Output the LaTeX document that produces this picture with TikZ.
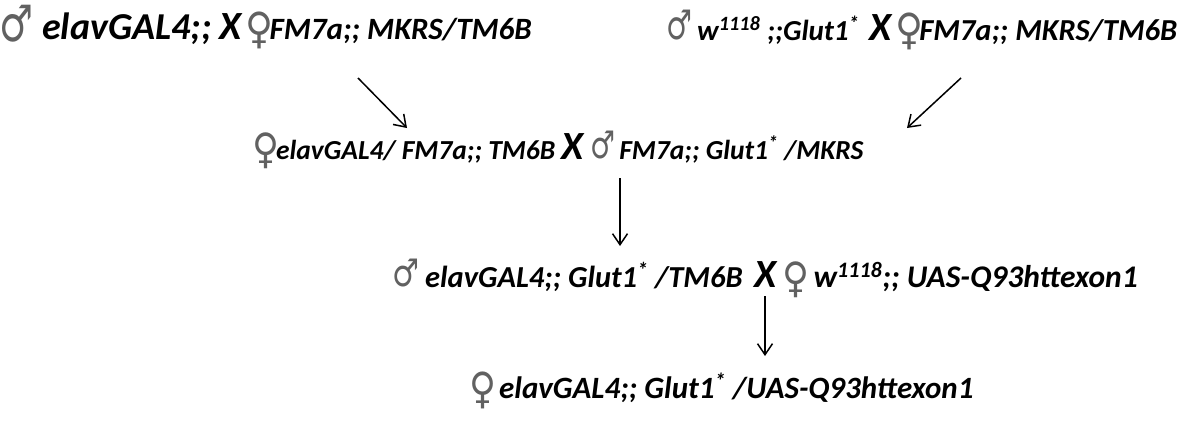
\documentclass[tikz,border=0pt]{standalone}
\usepackage{fontspec}
\usepackage{graphicx}
\usetikzlibrary{arrows.meta}
\setmainfont{Carlito}
\newfontfamily\sexsym{DejaVu Sans}[UprightFont=* ExtraLight]
\colorlet{symgray}{black!62}
\newcommand\fsz[1]{\fontsize{#1}{#1}\selectfont}
% sex symbols: glyph, set width, glyph box width, height above baseline, depth below baseline
\newcommand\sexglyph[5]{\makebox[#2]{\raisebox{-#5}{\resizebox{#3}{\dimexpr#4+#5\relax}{\raisebox{\depth}{\color{symgray}\sexsym #1}}}}}
\newcommand\male[4]{\sexglyph{♂}{#1}{#2}{#3}{#4}}
\newcommand\female[4]{\sexglyph{♀}{#1}{#2}{#3}{#4}}
\newcommand\cross{{\fsz{40}X}}
\newcommand\sups[1]{\textsuperscript{#1}}
\tikzset{
  geno/.style={anchor=base west, inner sep=0pt, font=\bfseries\itshape},
  step arrow/.style={-{Straight Barb[length=11pt,width=15pt,line width=1.5pt]}, line width=1.5pt}
}
\begin{document}
\begin{tikzpicture}[x=1pt,y=-1pt]
\useasboundingbox (0,0) rectangle (1189,423);

% parental crosses
\node[geno] (p1) at (5,39)
  {\male{23pt}{34pt}{34pt}{3pt}\hspace{14pt}{\fsz{38}elavGAL4;;}\hspace{8pt}\cross\hspace{9pt}\female{18pt}{28pt}{27pt}{10pt}\hspace{1pt}{\fsz{31}FM7a;; MKRS/TM6B}};
\node[geno] (p2) at (670,40)
  {\male{18pt}{26pt}{30pt}{0pt}\hspace{9pt}{\fsz{29}w\sups{1118} ;;Glut1\sups{*}}\hspace{10pt}\cross\hspace{9pt}\female{18pt}{28pt}{27pt}{10pt}\hspace{1pt}{\fsz{30.5}FM7a;; MKRS/TM6B}};

% F1 cross
\node[geno] (f1) at (257,159)
  {\female{17pt}{27pt}{26pt}{10pt}\hspace{2pt}{\fsz{27.5}elavGAL4/ FM7a;; TM6B}\hspace{6pt}\cross\hspace{11pt}\male{17pt}{25pt}{28pt}{0pt}\hspace{8pt}{\fsz{27.5}FM7a;; Glut1\sups{*} /MKRS}};

% F2 cross
\node[geno] (f2) at (396,287)
  {\male{19pt}{27pt}{28pt}{0pt}\hspace{10pt}{\fsz{30.5}elavGAL4;; Glut1\sups{*} /TM6B}\hspace{12pt}\cross\hspace{11pt}\female{17pt}{27pt}{25pt}{11pt}\hspace{9pt}{\fsz{31.5}w\sups{1118};; UAS-Q93httexon1}};

% progeny
\node[geno] (f3) at (474,398)
  {\female{17pt}{27pt}{26pt}{11pt}\hspace{8pt}{\fsz{31}elavGAL4;; Glut1\sups{*} /UAS-Q93httexon1}};

% arrow end points
\coordinate (a1s) at (358,78);
\coordinate (a1e) at (407,128);
\coordinate (a2s) at (961,78);
\coordinate (a2e) at (907,128);
\coordinate (a3s) at (620,178);
\coordinate (a3e) at (620,246);
\coordinate (a4s) at (765,296);
\coordinate (a4e) at (765,356);

\draw[step arrow] (a1s) -- (a1e);
\draw[step arrow] (a2s) -- (a2e);
\draw[step arrow] (a3s) -- (a3e);
\draw[step arrow] (a4s) -- (a4e);
\end{tikzpicture}
\end{document}
